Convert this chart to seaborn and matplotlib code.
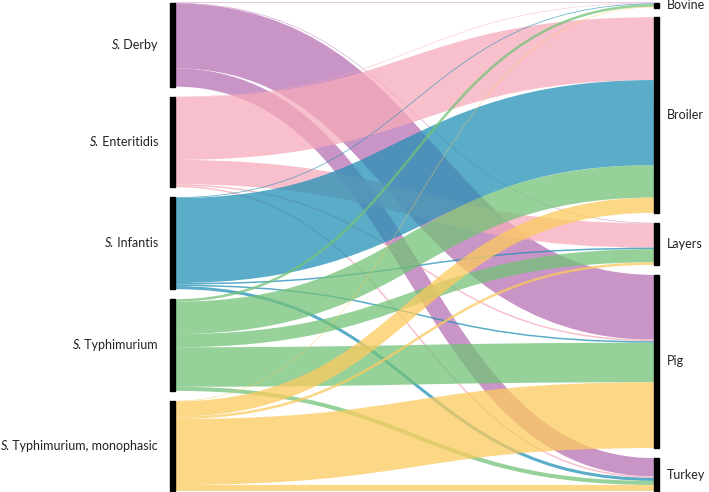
import numpy as np
import matplotlib.pyplot as plt
from matplotlib.patches import Rectangle, PathPatch
from matplotlib.path import Path
import seaborn as sns

# =============================
# Data: serovar -> animal source (flow sizes)
# =============================
serovars = ["Derby", "Enteritidis", "Infantis", "Typhimurium", "Typhimurium, monophasic"]
animals = ["Bovine", "Broiler", "Layers", "Pig", "Turkey"]

# flows per serovar, in the order of `animals`
derby = [0.5, 0, 0.5, 64, 18]
enteritidis = [0.5, 62, 24, 1.5, 1.5]
infantis = [0.7, 84, 1.5, 1.5, 3]
typhimurium = [2.5, 32, 13, 39, 4]
monophasic = [0.5, 15, 2.5, 65, 6]

serovar_colors = ["#B770B4", "#F6ABBB", "#2390B6", "#73C278", "#FCCB5E"]

# =============================
# Style
# =============================
sns.set_theme(style="white")
plt.rcParams['font.family'] = ['Lato', 'DejaVu Sans']

palette = sns.color_palette(serovar_colors)
DPI = 100

fig = plt.figure(figsize=(7.09, 4.92), dpi=DPI)
ax = fig.add_axes([0, 0, 1, 1])
ax.set_xlim(0, 709)
ax.set_ylim(492, 0)
ax.axis('off')

# =============================
# Layout
# =============================
flows = np.array([derby, enteritidis, infantis, typhimurium, monophasic], dtype=float)
top, bottom, gap = 2.5, 491, 10
left_x, right_x, bar_w = 170, 654, 4.5
scale = (bottom - top - gap * (len(serovars) - 1)) / flows.sum()

src_h = flows.sum(axis=1) * scale
tgt_h = flows.sum(axis=0) * scale
src_y = top + np.concatenate([[0], np.cumsum(src_h + gap)[:-1]])
tgt_y = top + np.concatenate([[0], np.cumsum(tgt_h + gap)[:-1]])

# where each flow starts / ends on its node
src_off = src_y[:, None] + np.concatenate([np.zeros((len(serovars), 1)),
                                           np.cumsum(flows * scale, axis=1)[:, :-1]], axis=1)
tgt_off = tgt_y[None, :] + np.concatenate([np.zeros((1, len(animals))),
                                           np.cumsum(flows * scale, axis=0)[:-1, :]], axis=0)

x0, x1 = left_x + bar_w, right_x
xm = (x0 + x1) / 2

# links drawn as stroked bezier ribbons (stroke width = flow size)
for i in range(len(serovars)):
    for j in range(len(animals)):
        h = flows[i, j] * scale
        if h <= 0:
            continue
        y0 = src_off[i, j] + h / 2
        y1 = tgt_off[i, j] + h / 2
        path = Path([(x0, y0), (xm, y0), (xm, y1), (x1, y1)],
                    [Path.MOVETO, Path.CURVE4, Path.CURVE4, Path.CURVE4])
        ax.add_patch(PathPatch(path, fill=False, edgecolor=palette[i], alpha=0.75,
                               linewidth=h * 72 / DPI, capstyle='butt'))

# node bars
for y, h in zip(src_y, src_h):
    ax.add_patch(Rectangle((left_x, y), bar_w, h, color='black', zorder=5))
for y, h in zip(tgt_y, tgt_h):
    ax.add_patch(Rectangle((right_x, y), bar_w, max(h, 5), color='black', zorder=5))

# labels: italic "S." followed by the serovar name
fig.canvas.draw()
renderer = fig.canvas.get_renderer()
inv = ax.transData.inverted()
for name, y, h in zip(serovars, src_y, src_h):
    t = ax.text(158, y + h / 2, " " + name, ha='right', va='center',
                fontsize=9, color='#222222')
    bb = t.get_window_extent(renderer)
    x_start = inv.transform((bb.x0, bb.y0))[0]
    ax.text(x_start + 0.5, y + h / 2, "S.", ha='right', va='center',
            fontsize=9, style='italic', color='#222222')
for name, y, h in zip(animals, tgt_y, tgt_h):
    ax.text(667, y + max(h, 5) / 2, name, ha='left', va='center',
            fontsize=9, color='#222222')

plt.savefig('out.png', dpi=DPI)
